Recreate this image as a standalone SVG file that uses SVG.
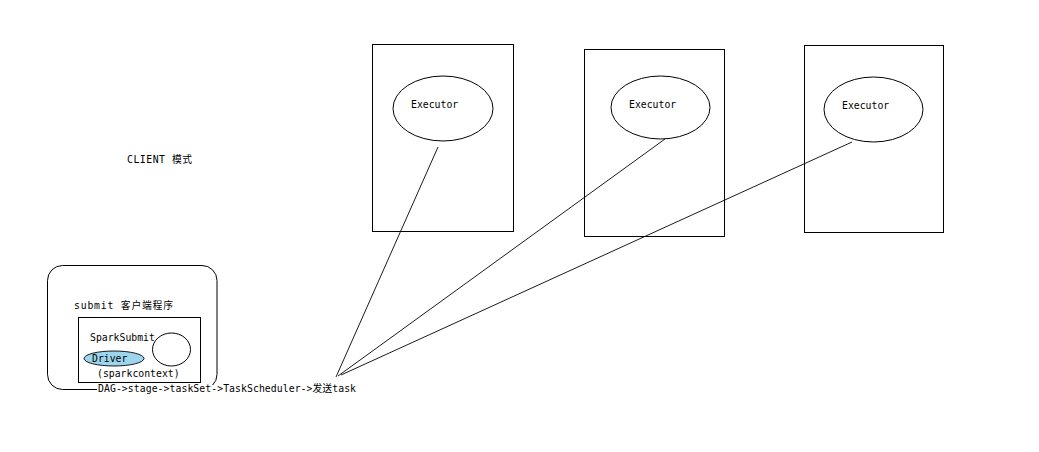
<svg xmlns="http://www.w3.org/2000/svg" width="1039" height="452" viewBox="0 0 1039 452">
<style>
  .box{fill:#fff;stroke:#000;stroke-width:1}
  .ell{fill:#fff;stroke:#000;stroke-width:1}
  .t{font-family:"DejaVu Sans Mono","Noto Sans CJK SC",monospace;font-size:9.8px;fill:#000}
  .conn line{stroke:#000;stroke-width:0.9}
</style>
<rect width="1039" height="452" fill="#fff"/>
<g id="client-label"><text class="t" x="127" y="163" textLength="65">CLIENT 模式</text></g>
<g id="worker1">
  <rect class="box" x="372.5" y="44.5" width="141" height="187"/>
  <ellipse class="ell" cx="443" cy="108.5" rx="50" ry="32.5"/>
  <text class="t" x="411" y="108">Executor</text>
</g>
<g id="worker2">
  <rect class="box" x="584.5" y="49.5" width="140" height="187"/>
  <ellipse class="ell" cx="660.5" cy="107.5" rx="49.5" ry="31.5"/>
  <text class="t" x="629" y="108">Executor</text>
</g>
<g id="worker3">
  <rect class="box" x="804.5" y="45.5" width="139" height="187"/>
  <ellipse class="ell" cx="873.5" cy="109.5" rx="49.5" ry="32.5"/>
  <text class="t" x="842" y="109">Executor</text>
</g>
<g id="client">
  <rect class="box" x="47.5" y="265.5" width="169.5" height="124" rx="15" ry="15"/>
  <text class="t" x="74" y="309" textLength="99">submit 客户端程序</text>
  <g id="sparksubmit">
    <rect class="box" x="78.5" y="317.5" width="122" height="65"/>
    <text class="t" x="90" y="341">SparkSubmit</text>
    <ellipse class="ell" cx="171.5" cy="349.5" rx="19" ry="16.5"/>
    <g id="driver">
      <ellipse cx="114" cy="358.5" rx="30" ry="7.5" fill="#9dd6ec" stroke="#000" stroke-width="0.9"/>
      <text class="t" x="92" y="362">Driver</text>
    </g>
    <text class="t" x="97" y="377">(sparkcontext)</text>
  </g>
</g>
<g id="dag">
  <rect x="97" y="385" width="261" height="10" fill="#fff"/>
  <text class="t" x="98" y="392" textLength="258">DAG-&gt;stage-&gt;taskSet-&gt;TaskScheduler-&gt;发送task</text>
</g>
<g class="conn" id="connectors">
  <line x1="438" y1="147" x2="336" y2="377"/>
  <line x1="665" y1="139" x2="338" y2="376"/>
  <line x1="852" y1="142" x2="341" y2="375"/>
</g>
</svg>
